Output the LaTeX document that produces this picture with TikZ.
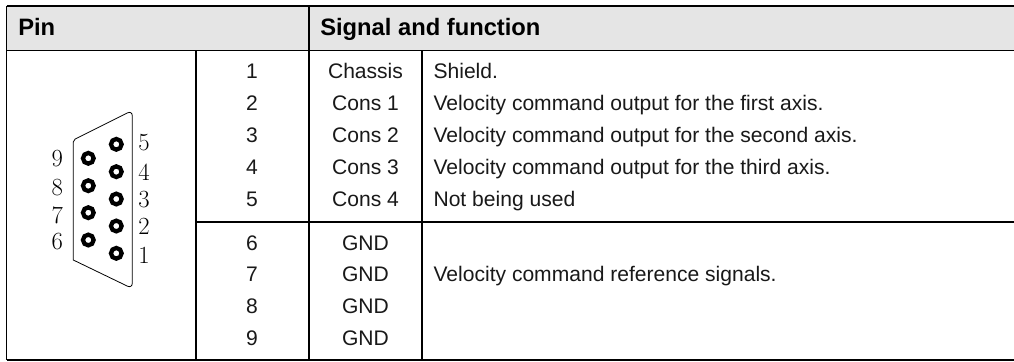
\documentclass[tikz,border=0pt]{standalone}
\usepackage{fontspec}
\newfontfamily\hv{Liberation Sans}
\begin{document}
\begin{tikzpicture}[x=0.75pt,y=-0.75pt,
  rule/.style={line width=1.3pt,black},
  hd/.style={font=\hv\fontsize{17.8}{20}\selectfont\bfseries,anchor=base west,inner sep=0pt},
  tx/.style={font=\hv\fontsize{15.8}{18}\selectfont,anchor=base west,inner sep=0pt,text=black!90},
  ctr/.style={font=\hv\fontsize{15.8}{18}\selectfont,anchor=base,inner sep=0pt,text=black!90},
  pinl/.style={font=\fontsize{18.5}{20}\selectfont,anchor=center,inner sep=0pt,text=black,draw=none},
  hole/.style={circle,draw=black,line width=3.2pt,fill=white,minimum size=8pt,inner sep=0pt}]
\useasboundingbox (0,0) rectangle (1014,361);
\fill[white] (0,0) rectangle (1014,361);
\fill[black!10] (6.5,6) rectangle (1014,50.5);
\coordinate (tl) at (6.5,6); \coordinate (tr) at (1014,6);
\coordinate (hl) at (6.5,50.5); \coordinate (hr) at (1014,50.5);
\coordinate (bl) at (6.5,360); \coordinate (br) at (1014,360);
\coordinate (c1t) at (196,50.5); \coordinate (c1b) at (196,360);
\coordinate (c2t) at (309,6); \coordinate (c2b) at (309,360);
\coordinate (c3t) at (422,50.5); \coordinate (c3b) at (422,360);
\coordinate (ml) at (196,221.7); \coordinate (mr) at (1014,221.7);
\draw[rule] (tl)--(tr) (hl)--(hr) (bl)--(br) (tl)--(bl) (c1t)--(c1b) (c2t)--(c2b) (c3t)--(c3b) (ml)--(mr);
\node[hd] (hpin) at (18,35) {Pin};
\node[hd] (hsig) at (320,35) {Signal and function};
\foreach \n/\y/\sg in {1/78.7/Chassis,2/110.7/Cons 1,3/142.7/Cons 2,4/174.7/Cons 3,5/206.7/Cons 4,6/250/GND,7/281.7/GND,8/313.5/GND,9/345.5/GND}{
  \node[ctr] (p\n) at (252,\y) {\n};
  \node[ctr] (s\n) at (365.5,\y) {\sg};
}
\node[tx] (d1) at (433.3,78.7) {Shield.};
\node[tx] (d2) at (433.3,110.7) {Velocity command output for the first axis.};
\node[tx] (d3) at (433.3,142.7) {Velocity command output for the second axis.};
\node[tx] (d4) at (433.3,174.7) {Velocity command output for the third axis.};
\node[tx] (d5) at (433.3,206.7) {Not being used};
\node[tx] (d6) at (433.3,281.7) {Velocity command reference signals.};
\draw[line width=0.6pt,black] (73.3,260) [rounded corners=1.5pt] -- (73.3,140) [rounded corners=4pt] -- (132.3,110.5) -- (132.3,288.5) [sharp corners] -- cycle;
\foreach \n/\x/\y in {a/116.3/144.3,b/116.3/171.7,c/116.3/199,d/116.3/226,e/116.3/253.3,f/88.3/158.3,g/88.3/185.7,h/88.3/212.7,i/88.3/240}{
  \node[hole] (\n) at (\x,\y) {};
}
\foreach \n/\x/\y/\t in {l5/144/142.3/5,l4/144/172.7/4,l3/144/200/3,l2/144/226/2,l1/144/255/1,l9/57.3/158.3/9,l8/57.3/187.3/8,l7/57.3/215.7/7,l6/57.3/241.7/6}{
  \node[pinl] (\n) at (\x,\y) {\t};
}
\end{tikzpicture}
\end{document}
